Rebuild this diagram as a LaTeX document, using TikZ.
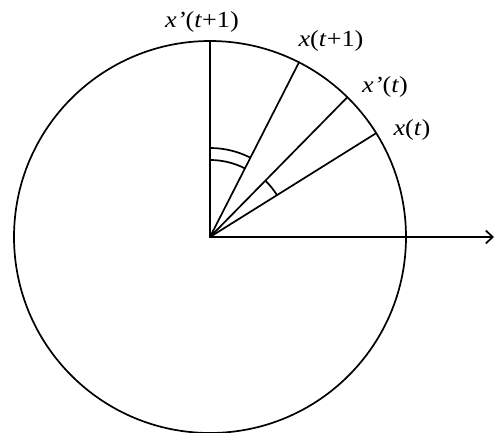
\documentclass[tikz,border=0pt]{standalone}
\usepackage{fontspec}
\usepackage{graphicx}
\setmainfont{Liberation Serif}
\usetikzlibrary{arrows.meta}
\begin{document}
\begin{tikzpicture}[x=1pt,y=1pt,
  ln/.style={line width=1.7pt,line cap=round},
  lab/.style={inner sep=0pt,font=\fontsize{23}{23}\selectfont}]
\useasboundingbox (0,0) rectangle (495,433);
\coordinate (O) at (210,196);
\draw[ln] (O) circle (196);
\path (O) ++(90:196) coordinate (A);
\path (O) ++(63:196) coordinate (B);
\path (O) ++(45.5:196) coordinate (C);
\path (O) ++(32:196) coordinate (D);
\coordinate (E) at (494,196);
\draw[ln] (O) -- (A);
\draw[ln] (O) -- (B);
\draw[ln] (O) -- (C);
\draw[ln] (O) -- (D);
\draw[ln,-{Straight Barb[length=7pt,width=13pt,line width=1.7pt]}] (O) -- (E);
\draw[ln] (O) ++(90:89) arc[start angle=90,end angle=63,radius=89];
\draw[ln] (O) ++(90:77) arc[start angle=90,end angle=63,radius=77];
\draw[ln] (O) ++(45.5:79) arc[start angle=45.5,end angle=32,radius=79];
\node[lab] (lA) at (202,411) {\scalebox{1.14}[1]{\textit{x'}(\textit{t}+1)}};
\node[lab] (lB) at (331,392) {\scalebox{1.14}[1]{\textit{x}(\textit{t}+1)}};
\node[lab] (lC) at (385,346) {\scalebox{1.14}[1]{\textit{x'}(\textit{t})}};
\node[lab] (lD) at (412,303) {\scalebox{1.14}[1]{\textit{x}(\textit{t})}};
\end{tikzpicture}
\end{document}
